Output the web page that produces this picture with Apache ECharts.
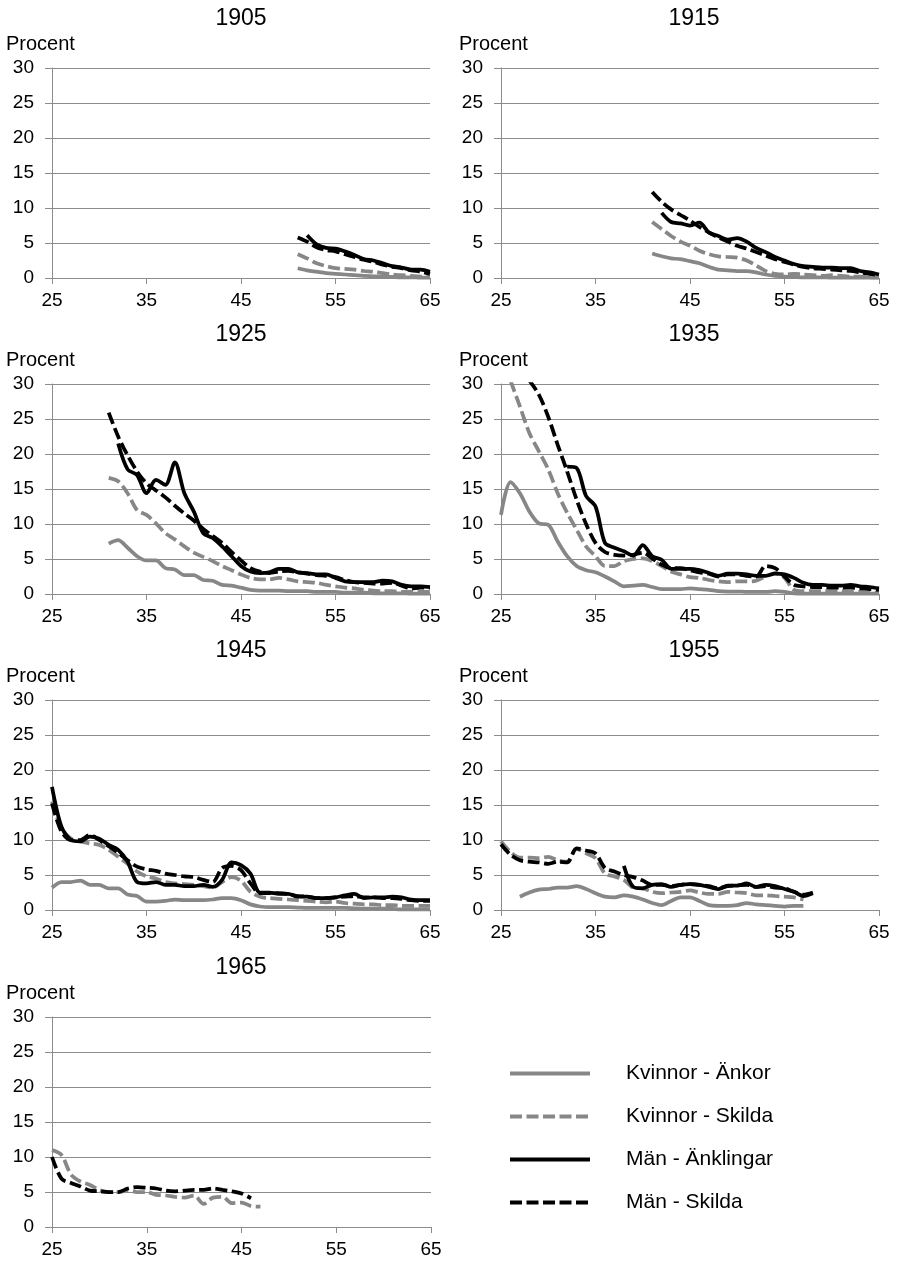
<!DOCTYPE html>
<html>
<head>
<meta charset="utf-8">
<script src="https://cdn.jsdelivr.net/npm/echarts@6/dist/echarts.min.js"></script>
<style>
html,body{margin:0;padding:0;background:#fff;}
#chart{width:903px;height:1262px;}
</style>
</head>
<body>
<div id="chart"></div>
<script>
// ---------------- DATA ----------------
const years = ['1905', '1915', '1925', '1935', '1945', '1955', '1965'];
const seriesNames = ['Kvinnor - Änkor', 'Kvinnor - Skilda', 'Män - Änklingar', 'Män - Skilda'];
const xTicks = [25, 35, 45, 55, 65];
const yTicks = [0, 5, 10, 15, 20, 25, 30];
const yLabel = 'Procent';

// first age of each series, order: Änkor, K-Skilda, Änklingar, M-Skilda
const start1905 = [51, 51, 52, 51];
const ankor1905 = [1.4,1.1,0.9,0.7,0.6,0.5,0.4,0.3,0.25,0.2,0.15,0.1,0.1,0.05,0.05];
const kskilda1905 = [3.4,2.8,2.1,1.7,1.4,1.3,1.2,1.0,0.9,0.7,0.5,0.4,0.3,0.2,0.2];
const anklingar1905 = [6.1,4.8,4.3,4.2,3.8,3.3,2.7,2.5,2.1,1.7,1.5,1.2,1.2,0.9];
const mskilda1905 = [5.8,5.2,4.4,4.0,3.8,3.4,3.0,2.6,2.3,1.9,1.6,1.4,1.1,0.9,0.6];

const start1915 = [41, 41, 42, 41];
const ankor1915 = [3.5,3.1,2.8,2.7,2.4,2.1,1.6,1.2,1.1,1.0,1.0,0.8,0.5,0.3,0.2,0.15,0.1,0.1,0.1,0.05,0.05,0.05,0.05,0.05,0.05];
const kskilda1915 = [8.0,7.0,6.0,5.2,4.6,3.9,3.4,3.1,3.0,2.9,2.5,1.8,1.0,0.6,0.5,0.6,0.5,0.4,0.3,0.4,0.3,0.2,0.2,0.1,0.1];
const anklingar1915 = [9.3,8.0,7.8,7.5,7.9,6.5,6.0,5.5,5.7,5.2,4.3,3.7,3.0,2.5,2.0,1.7,1.6,1.5,1.5,1.4,1.4,1.0,0.8,0.5];
const mskilda1915 = [12.3,10.9,9.8,9.0,8.2,7.3,6.5,5.8,5.2,4.6,4.2,3.7,3.2,2.7,2.3,1.9,1.6,1.4,1.3,1.2,1.1,1.0,0.8,0.6,0.4];

const start1925 = [31, 31, 32, 31];
const ankor1925 = [7.2,7.7,6.6,5.4,4.8,4.8,3.7,3.5,2.7,2.7,2.0,1.9,1.3,1.2,0.9,0.6,0.5,0.5,0.5,0.4,0.4,0.4,0.3,0.3,0.3,0.2,0.2,0.2,0.1,0.1,0.1,0.1,0.05,0.05,0.05];
const kskilda1925 = [16.6,16.1,14.4,12.0,11.3,10.1,8.7,7.8,6.8,5.9,5.3,4.7,4.0,3.4,2.8,2.3,2.1,2.1,2.3,2.1,1.8,1.7,1.6,1.3,1.1,0.9,0.8,0.6,0.5,0.4,0.4,0.3,0.3,0.3,0.3];
const anklingar1925 = [21.5,17.8,17.0,14.4,16.3,15.6,18.8,14.4,11.8,8.7,8.0,6.8,5.4,4.0,3.2,3.0,3.1,3.6,3.6,3.1,3.0,2.8,2.8,2.3,1.8,1.7,1.7,1.7,1.9,1.8,1.3,1.1,1.1,1.0];
const mskilda1925 = [25.9,22.5,19.8,17.5,15.8,14.8,13.8,12.6,11.5,10.5,9.3,8.3,7.3,6.0,4.8,3.7,3.2,3.0,3.2,3.3,3.1,2.9,2.7,2.6,2.4,2.0,1.7,1.6,1.5,1.5,1.6,1.2,0.8,0.9,0.9];

const start1935 = [25, 26, 32, 28];
const ankor1935 = [11.3,16.0,14.4,11.8,10.1,9.9,7.5,5.4,4.0,3.4,3.1,2.5,1.8,1.1,1.2,1.3,1.0,0.7,0.7,0.7,0.8,0.7,0.6,0.4,0.35,0.35,0.3,0.3,0.3,0.4,0.3,0.1,0.05,0.05,0.05,0.05,0.05,0.05,0.05,0.05,0.05];
const kskilda1935 = [30.5,26.8,23.0,20.4,17.8,14.4,11.6,9.2,6.8,5.4,4.0,4.0,4.7,5.0,5.1,4.7,4.0,3.2,2.8,2.4,2.3,2.0,1.8,1.7,1.8,1.8,1.9,2.5,3.0,2.3,0.6,0.4,0.4,0.4,0.4,0.4,0.3,0.3,0.2,0.2];
const anklingar1935 = [18.2,18.0,14.0,12.5,7.3,6.6,6.1,5.5,7.0,5.4,4.9,3.6,3.6,3.6,3.4,3.0,2.6,2.9,2.9,2.8,2.6,2.6,2.9,2.8,2.3,1.6,1.3,1.3,1.2,1.2,1.3,1.1,1.0,0.8];
const mskilda1935 = [30.5,28.5,25.3,21.3,17.5,13.5,10.0,7.3,6.0,5.6,5.5,5.6,5.9,5.1,4.2,3.7,3.7,3.4,3.1,2.9,2.5,2.8,2.8,2.6,2.5,4.0,3.7,2.5,1.3,1.1,1.0,1.0,0.9,0.9,0.9,0.8,0.7,0.6];

const start1945 = [25, 25, 25, 25];
const ankor1945 = [3.2,4.0,4.0,4.2,3.6,3.6,3.1,3.1,2.2,2.0,1.2,1.2,1.3,1.5,1.4,1.4,1.4,1.5,1.7,1.7,1.4,0.8,0.5,0.4,0.4,0.4,0.35,0.3,0.3,0.3,0.3,0.3,0.25,0.2,0.2,0.2,0.15,0.1,0.1,0.1,0.1];
const kskilda1945 = [15.5,11.7,10.2,9.8,9.5,9.3,8.6,7.6,6.6,5.5,4.8,4.5,4.0,3.8,3.7,3.6,3.4,3.2,4.0,4.7,4.2,2.6,1.9,1.7,1.6,1.5,1.4,1.3,1.2,1.1,1.2,1.0,0.9,0.8,0.8,0.7,0.7,0.6,0.6,0.6,0.6];
const anklingar1945 = [17.6,11.9,10.0,9.8,10.5,10.2,9.3,8.6,6.9,4.0,3.8,4.0,3.6,3.6,3.4,3.4,3.6,3.3,4.3,6.8,6.4,5.2,2.5,2.5,2.3,2.3,1.9,1.9,1.7,1.7,1.8,2.1,2.3,1.7,1.8,1.8,1.9,1.8,1.5,1.4,1.4];
const mskilda1945 = [15.2,11.2,10.0,10.0,10.7,10.0,9.1,8.2,7.1,6.2,5.8,5.6,5.2,5.0,4.8,4.7,4.3,4.0,6.0,6.3,5.7,3.8,2.4,2.4,2.4,2.3,2.0,1.9,1.7,1.7,1.8,1.9,2.0,1.8,1.8,1.7,1.7,1.6,1.4,1.3,1.3];

const start1955 = [27, 25, 38, 25];
const ankor1955 = [1.9,2.5,2.9,3.0,3.2,3.2,3.4,3.0,2.4,1.9,1.8,2.1,1.9,1.5,1.0,0.7,1.3,1.8,1.8,1.3,0.7,0.6,0.6,0.7,1.0,0.8,0.7,0.6,0.5,0.6,0.6];
const kskilda1955 = [9.8,8.3,7.5,7.5,7.4,7.6,7.1,6.9,8.7,8.1,7.4,5.2,4.8,4.3,3.2,3.1,2.6,2.4,2.5,2.6,2.8,2.5,2.3,2.3,2.6,2.5,2.4,2.1,2.1,2.0,1.9,1.8,1.5];
const anklingar1955 = [6.3,3.3,3.1,3.6,3.7,3.3,3.6,3.7,3.6,3.3,3.0,3.5,3.5,3.8,3.3,3.6,3.4,3.0,2.6,2.0,2.4];
const mskilda1955 = [9.4,7.9,7.1,6.9,6.8,6.6,6.9,6.8,8.8,8.5,8.1,6.0,5.5,5.0,4.7,4.2,3.6,3.6,3.4,3.6,3.7,3.6,3.4,3.1,3.4,3.5,3.6,3.3,3.4,3.2,3.1,2.6,2.2,2.5];

const start1965 = [25, 25, 25, 25];
const ankor1965 = [];
const kskilda1965 = [11.0,10.3,7.5,6.5,6.0,5.3,5.0,5.0,5.2,5.0,5.0,4.6,4.5,4.3,4.2,4.5,3.3,4.2,4.3,3.4,3.5,3.0,2.9];
const anklingar1965 = [];
const mskilda1965 = [10.0,6.9,6.3,5.8,5.2,5.1,5.0,5.0,5.5,5.7,5.6,5.5,5.2,5.1,5.2,5.3,5.3,5.5,5.3,5.1,4.8,4.1];

const panelStarts = [start1905, start1915, start1925, start1935, start1945, start1955, start1965];
const panelValues = [
  [ankor1905, kskilda1905, anklingar1905, mskilda1905],
  [ankor1915, kskilda1915, anklingar1915, mskilda1915],
  [ankor1925, kskilda1925, anklingar1925, mskilda1925],
  [ankor1935, kskilda1935, anklingar1935, mskilda1935],
  [ankor1945, kskilda1945, anklingar1945, mskilda1945],
  [ankor1955, kskilda1955, anklingar1955, mskilda1955],
  [ankor1965, kskilda1965, anklingar1965, mskilda1965]
];

// ---------------- LAYOUT / STYLE ----------------
const FONT = "'Liberation Sans', Arial, sans-serif";
const GRAY = '#878787';
const AXIS = '#8c8c8c';
const gridLefts = [52, 501, 52, 501, 52, 501, 52];
const gridTops = [68, 68, 384, 384, 700, 700, 1017];
const gridWidths = [378, 378, 378, 378, 378, 378, 379];
const titleCenters = [241, 694];
const procentLefts = [6, 459];
const lineStyles = [
  { color: GRAY, type: 'solid' },
  { color: GRAY, type: [12, 4.5] },
  { color: '#000', type: 'solid' },
  { color: '#000', type: [12, 4.5] }
];

const grids = [], xAxes = [], yAxes = [], titles = [], series = [];
years.forEach((yr, i) => {
  const col = i % 2;
  grids.push({ left: gridLefts[i], top: gridTops[i], width: gridWidths[i], height: 210 });
  xAxes.push({
    gridIndex: i, type: 'value',
    min: xTicks[0], max: xTicks[xTicks.length - 1], interval: xTicks[1] - xTicks[0],
    axisLine: { show: true, onZero: false, lineStyle: { color: AXIS, width: 1 } },
    axisTick: { show: true, length: 6, lineStyle: { color: AXIS, width: 1 } },
    axisLabel: { fontSize: 19, color: '#000', margin: 13, fontFamily: FONT },
    splitLine: { show: false }
  });
  yAxes.push({
    gridIndex: i, type: 'value',
    min: yTicks[0], max: yTicks[yTicks.length - 1], interval: yTicks[1] - yTicks[0],
    axisLine: { show: true, lineStyle: { color: AXIS, width: 1 } },
    axisTick: { show: true, length: 7, lineStyle: { color: AXIS, width: 1 } },
    axisLabel: { fontSize: 19, color: '#000', margin: 18, fontFamily: FONT },
    splitLine: { show: true, lineStyle: { color: AXIS, width: 1 } }
  });
  titles.push({
    text: yr, left: titleCenters[col], top: gridTops[i] - 61, textAlign: 'center', padding: 0,
    textStyle: { fontSize: 23, lineHeight: 23, fontWeight: 'normal', color: '#000', fontFamily: FONT }
  });
  titles.push({
    text: yLabel, left: procentLefts[col], top: gridTops[i] - 34, padding: 0,
    textStyle: { fontSize: 20, lineHeight: 20, fontWeight: 'normal', color: '#000', fontFamily: FONT }
  });
  panelValues[i].forEach((vals, s) => {
    const st = panelStarts[i][s];
    series.push({
      type: 'line', name: seriesNames[s], xAxisIndex: i, yAxisIndex: i,
      data: vals.map((v, j) => [st + j, v]),
      symbol: 'none', showSymbol: false, smooth: 0.3, clip: true,
      lineStyle: { color: lineStyles[s].color, width: 3.75, type: lineStyles[s].type },
      itemStyle: { color: lineStyles[s].color },
      silent: true, animation: false, z: 2 + s
    });
  });
});

const chart = echarts.init(document.getElementById('chart'), null, { renderer: 'canvas' });
chart.setOption({
  backgroundColor: '#fff',
  animation: false,
  title: titles,
  grid: grids,
  xAxis: xAxes,
  yAxis: yAxes,
  legend: {
    data: seriesNames, orient: 'vertical', left: 508, top: 1063, padding: 0,
    itemWidth: 80, itemHeight: 14, itemGap: 22,
    selectedMode: false,
    itemStyle: { opacity: 0, borderWidth: 0 },
    lineStyle: { width: 4 },
    textStyle: { fontSize: 21, lineHeight: 21, color: '#000', fontFamily: FONT, padding: [0, 0, 0, 31] }
  },
  series: series
});
</script>
</body>
</html>
